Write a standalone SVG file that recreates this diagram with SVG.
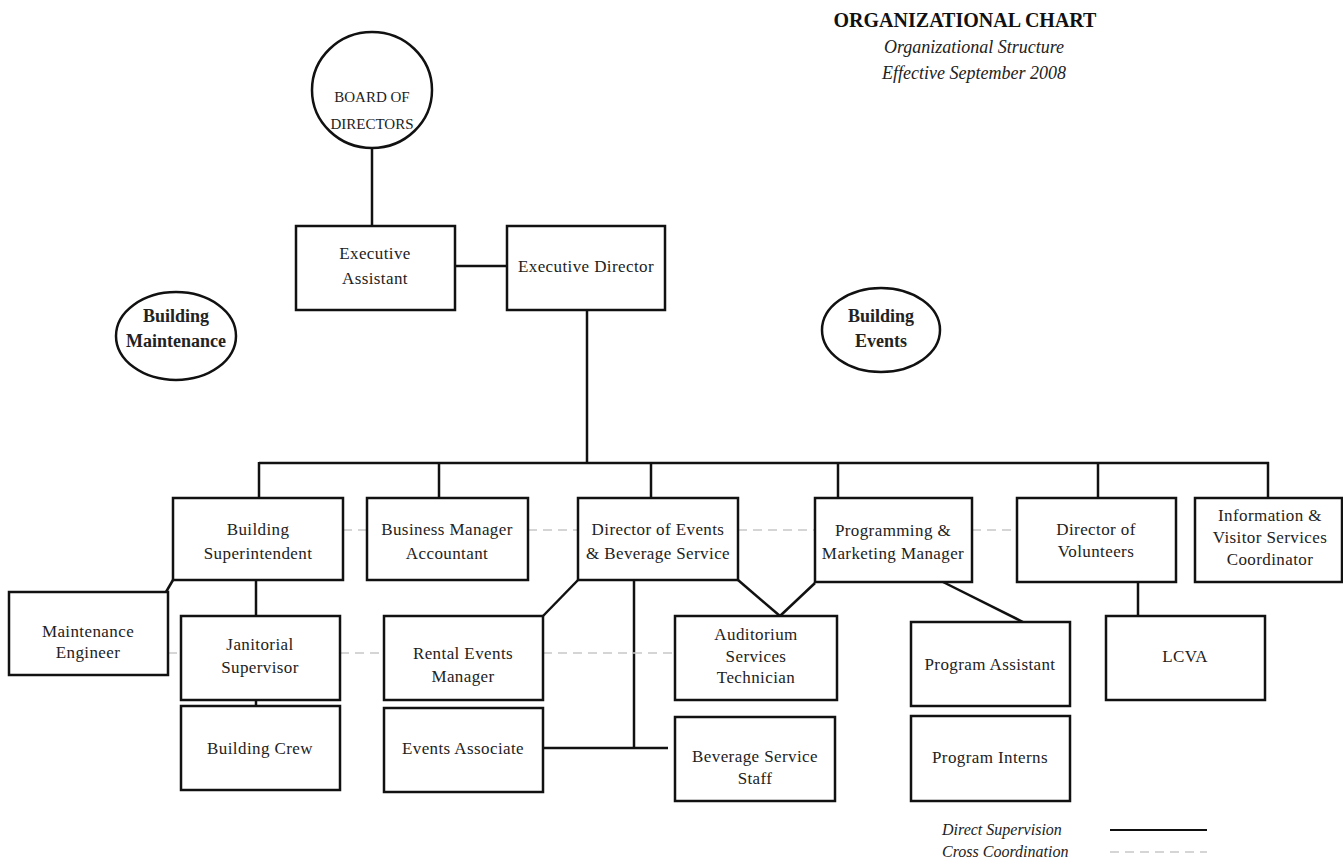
<svg xmlns="http://www.w3.org/2000/svg" width="1343" height="859" viewBox="0 0 1343 859">
  <style>
    .box { fill: #fff; stroke: #111; stroke-width: 2.5; }
    .oval { fill: #fff; stroke: #111; stroke-width: 2.5; }
    text { font-family: "Liberation Serif", "DejaVu Serif", serif; }
    .t { font-size: 17px; fill: #222; text-anchor: middle; letter-spacing: 0.4px; }
    .caps { font-size: 15px; fill: #222; text-anchor: middle; }
    .b { font-size: 18px; font-weight: bold; fill: #222; text-anchor: middle; }
    .title { font-size: 20px; font-weight: bold; fill: #111; text-anchor: middle; }
    .it { font-size: 18px; font-style: italic; fill: #222; text-anchor: middle; }
    .leg { font-size: 16px; font-style: italic; fill: #222; }
    .line { stroke: #111; stroke-width: 2.5; fill: none; }
    .dash { stroke: #c8c8c8; stroke-width: 1.5; stroke-dasharray: 9 6; fill: none; }
  </style>

  <rect width="1343" height="859" fill="#fff"/>

  <!-- heading -->
  <g id="heading">
    <text class="title" x="965" y="27">ORGANIZATIONAL CHART</text>
    <text class="it" x="974" y="53">Organizational Structure</text>
    <text class="it" x="974" y="79">Effective September 2008</text>
  </g>

  <!-- supervision lines and cross-coordination lines -->
  <g id="connectors">
    <line class="line" x1="372" y1="148" x2="372" y2="226"/>
    <line class="line" x1="455" y1="266" x2="507" y2="266"/>
    <line class="line" x1="587" y1="310" x2="587" y2="463"/>
    <line class="line" x1="259" y1="463" x2="1269" y2="463"/>
    <line class="line" x1="259" y1="462" x2="259" y2="498"/>
    <line class="line" x1="439" y1="462" x2="439" y2="498"/>
    <line class="line" x1="651" y1="462" x2="651" y2="498"/>
    <line class="line" x1="838" y1="462" x2="838" y2="498"/>
    <line class="line" x1="1098" y1="462" x2="1098" y2="498"/>
    <line class="line" x1="1268" y1="462" x2="1268" y2="498"/>
    <line class="line" x1="256" y1="580" x2="256" y2="616"/>
    <line class="line" x1="173" y1="580" x2="166" y2="592"/>
    <line class="line" x1="256" y1="700" x2="256" y2="706"/>
    <line class="line" x1="580" y1="578" x2="543" y2="616"/>
    <line class="line" x1="738" y1="580" x2="780" y2="616"/>
    <line class="line" x1="815" y1="583" x2="780" y2="616"/>
    <line class="line" x1="943" y1="582" x2="1023" y2="622"/>
    <line class="line" x1="1138" y1="582" x2="1138" y2="616"/>
    <line class="line" x1="634" y1="548" x2="634" y2="749"/>
    <line class="line" x1="543" y1="748" x2="668" y2="748"/>

    <line class="dash" x1="343" y1="530" x2="367" y2="530"/>
    <line class="dash" x1="528" y1="530" x2="578" y2="530"/>
    <line class="dash" x1="738" y1="530" x2="815" y2="530"/>
    <line class="dash" x1="972" y1="530" x2="1017" y2="530"/>
    <line class="dash" x1="168" y1="653" x2="181" y2="653"/>
    <line class="dash" x1="340" y1="653" x2="384" y2="653"/>
    <line class="dash" x1="543" y1="653" x2="675" y2="653"/>
  </g>

  <g id="board">
    <ellipse class="oval" cx="372" cy="90" rx="60" ry="58"/>
    <text class="caps" x="372" y="102">BOARD OF</text>
    <text class="caps" x="372" y="129">DIRECTORS</text>
  </g>

  <g id="building-maintenance">
    <ellipse class="oval" cx="176" cy="336" rx="60" ry="44"/>
    <text class="b" x="176" y="322">Building</text>
    <text class="b" x="176" y="347">Maintenance</text>
  </g>

  <g id="building-events">
    <ellipse class="oval" cx="881" cy="330" rx="59" ry="42"/>
    <text class="b" x="881" y="322">Building</text>
    <text class="b" x="881" y="347">Events</text>
  </g>

  <g id="executive-assistant">
    <rect class="box" x="296" y="226" width="159" height="84"/>
    <text class="t" x="375" y="259">Executive</text>
    <text class="t" x="375" y="284">Assistant</text>
  </g>

  <g id="executive-director">
    <rect class="box" x="507" y="226" width="158" height="84"/>
    <text class="t" x="586" y="272">Executive Director</text>
  </g>

  <g id="building-superintendent">
    <rect class="box" x="173" y="498" width="170" height="82"/>
    <text class="t" x="258" y="535">Building</text>
    <text class="t" x="258" y="559">Superintendent</text>
  </g>

  <g id="business-manager">
    <rect class="box" x="367" y="498" width="161" height="82"/>
    <text class="t" x="447" y="535">Business Manager</text>
    <text class="t" x="447" y="559">Accountant</text>
  </g>

  <g id="director-events">
    <rect class="box" x="578" y="498" width="160" height="82"/>
    <text class="t" x="658" y="535">Director of Events</text>
    <text class="t" x="658" y="559">&amp; Beverage Service</text>
  </g>

  <g id="programming-marketing">
    <rect class="box" x="815" y="498" width="157" height="84"/>
    <text class="t" x="893" y="536">Programming &amp;</text>
    <text class="t" x="893" y="559">Marketing Manager</text>
  </g>

  <g id="director-volunteers">
    <rect class="box" x="1017" y="498" width="159" height="84"/>
    <text class="t" x="1096" y="535">Director of</text>
    <text class="t" x="1096" y="557">Volunteers</text>
  </g>

  <g id="information-visitor">
    <rect class="box" x="1195" y="498" width="147" height="84"/>
    <text class="t" x="1270" y="521">Information &amp;</text>
    <text class="t" x="1270" y="543">Visitor Services</text>
    <text class="t" x="1270" y="565">Coordinator</text>
  </g>

  <g id="maintenance-engineer">
    <rect class="box" x="9" y="592" width="159" height="83"/>
    <text class="t" x="88" y="637">Maintenance</text>
    <text class="t" x="88" y="658">Engineer</text>
  </g>

  <g id="janitorial-supervisor">
    <rect class="box" x="181" y="616" width="159" height="84"/>
    <text class="t" x="260" y="650">Janitorial</text>
    <text class="t" x="260" y="673">Supervisor</text>
  </g>

  <g id="building-crew">
    <rect class="box" x="181" y="706" width="159" height="84"/>
    <text class="t" x="260" y="754">Building Crew</text>
  </g>

  <g id="rental-events">
    <rect class="box" x="384" y="616" width="159" height="84"/>
    <text class="t" x="463" y="659">Rental Events</text>
    <text class="t" x="463" y="682">Manager</text>
  </g>

  <g id="events-associate">
    <rect class="box" x="384" y="708" width="159" height="84"/>
    <text class="t" x="463" y="754">Events Associate</text>
  </g>

  <g id="auditorium-technician">
    <rect class="box" x="675" y="616" width="162" height="84"/>
    <text class="t" x="756" y="640">Auditorium</text>
    <text class="t" x="756" y="662">Services</text>
    <text class="t" x="756" y="683">Technician</text>
  </g>

  <g id="beverage-staff">
    <rect class="box" x="675" y="717" width="160" height="84"/>
    <text class="t" x="755" y="762">Beverage Service</text>
    <text class="t" x="755" y="784">Staff</text>
  </g>

  <g id="program-assistant">
    <rect class="box" x="911" y="622" width="159" height="84"/>
    <text class="t" x="990" y="670">Program Assistant</text>
  </g>

  <g id="program-interns">
    <rect class="box" x="911" y="716" width="159" height="85"/>
    <text class="t" x="990" y="763">Program Interns</text>
  </g>

  <g id="lcva">
    <rect class="box" x="1106" y="616" width="159" height="84"/>
    <text class="t" x="1185" y="662">LCVA</text>
  </g>

  <!-- key -->
  <g id="legend">
    <text class="leg" x="942" y="835">Direct Supervision</text>
    <text class="leg" x="942" y="857">Cross Coordination</text>
    <line x1="1110" y1="830" x2="1207" y2="830" stroke="#111" stroke-width="2"/>
    <line class="dash" x1="1110" y1="852" x2="1207" y2="852" stroke="#e4e4e4"/>
  </g>
</svg>
